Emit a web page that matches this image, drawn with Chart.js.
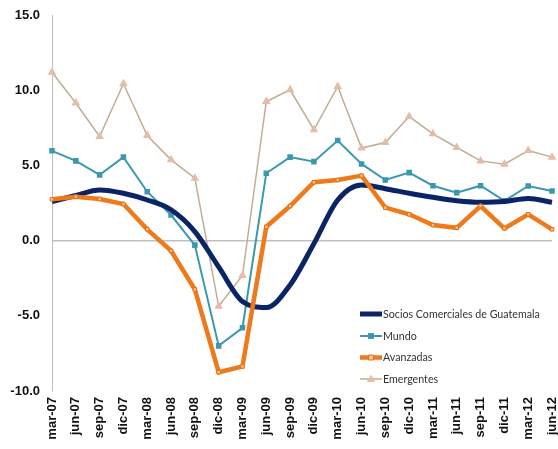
<!DOCTYPE html>
<html>
<head>
<meta charset="utf-8">
<script src="https://cdn.jsdelivr.net/npm/chart.js@4.4.1/dist/chart.umd.min.js"></script>
<style>
html,body{margin:0;padding:0;background:#fff;}
canvas{display:block;}
</style>
</head>
<body>
<canvas id="c" width="558" height="449"></canvas>
<script>
const categories = ["mar-07","jun-07","sep-07","dic-07","mar-08","jun-08","sep-08","dic-08","mar-09","jun-09","sep-09","dic-09","mar-10","jun-10","sep-10","dic-10","mar-11","jun-11","sep-11","dic-11","mar-12","jun-12"];
const socios = [2.6,3.0,3.37,3.15,2.7,2.05,0.6,-1.75,-4.05,-4.45,-2.95,-0.2,2.7,3.7,3.45,3.15,2.88,2.65,2.55,2.6,2.8,2.55];
const mundo = [5.97,5.3,4.37,5.55,3.25,1.7,-0.3,-7.0,-5.8,4.48,5.55,5.25,6.65,5.1,4.03,4.52,3.65,3.19,3.65,2.65,3.63,3.3];
const avanzadas = [2.75,2.92,2.77,2.43,0.75,-0.68,-3.25,-8.75,-8.37,0.92,2.3,3.88,4.03,4.32,2.19,1.75,1.03,0.85,2.3,0.81,1.75,0.75];
const emergentes = [11.19,9.15,6.92,10.43,6.99,5.37,4.15,-4.37,-2.32,9.25,10.03,7.37,10.25,6.15,6.52,8.25,7.1,6.19,5.3,5.08,5.99,5.55];
const seriesNames = ["Socios Comerciales de Guatemala","Mundo","Avanzadas","Emergentes"];
const yTicks = [-10,-5,0,5,10,15];

const NAVY = '#0B2466', TEAL = '#3B98AE', ORANGE = '#EE7A1B', TAN = '#BFAE95', TRI = '#E8BBA8';

const legendPlugin = {
  id: 'insideLegend',
  afterDraw(chart) {
    const ctx = chart.ctx;
    const x0 = 360, x1 = 382, ys = [314, 336, 357.5, 379];
    ctx.save();
    ctx.font = '12px Lato, "Open Sans", sans-serif';
    const w = ctx.measureText(seriesNames[0]).width;
    const fs = Math.min(12, 12 * 157 / w);
    ctx.font = fs.toFixed(2) + 'px Lato, "Open Sans", sans-serif';
    ctx.textBaseline = 'middle';
    const items = chart.data.datasets.slice().sort((a,b)=>a.legendIndex-b.legendIndex);
    items.forEach((ds, i) => {
      const y = ys[i];
      ctx.strokeStyle = ds.borderColor;
      ctx.lineWidth = ds.borderWidth;
      ctx.lineCap = 'butt';
      ctx.beginPath(); ctx.moveTo(x0, y); ctx.lineTo(x1, y); ctx.stroke();
      if (ds.pointRadius > 0) {
        const cx = (x0 + x1) / 2, r = ds.pointRadius;
        ctx.fillStyle = ds.pointBackgroundColor;
        ctx.strokeStyle = ds.pointBorderColor;
        ctx.lineWidth = 1;
        ctx.beginPath();
        if (ds.pointStyle === 'rect') { ctx.rect(cx - r, y - r, 2*r, 2*r); }
        else if (ds.pointStyle === 'triangle') { ctx.moveTo(cx, y - r); ctx.lineTo(cx + r, y + r*0.7); ctx.lineTo(cx - r, y + r*0.7); ctx.closePath(); }
        else { ctx.rect(cx - r*0.8, y - r*0.8, 1.6*r, 1.6*r); }
        ctx.fill(); ctx.stroke();
      }
      ctx.fillStyle = '#333333';
      ctx.fillText(ds.label, x1 + 1, y + 0.5);
    });
    ctx.restore();
  }
};

new Chart(document.getElementById('c'), {
  type: 'line',
  data: {
    labels: categories,
    datasets: [
      { label: seriesNames[3], legendIndex: 3, data: emergentes, borderColor: TAN, borderWidth: 1.5, pointStyle: 'triangle', pointRadius: 3.5, pointBackgroundColor: TRI, pointBorderColor: TRI, tension: 0, order: 4 },
      { label: seriesNames[1], legendIndex: 1, data: mundo, borderColor: TEAL, borderWidth: 2, pointStyle: 'rect', pointRadius: 2.5, pointBackgroundColor: TEAL, pointBorderColor: TEAL, tension: 0, order: 3 },
      { label: seriesNames[0], legendIndex: 0, data: socios, borderColor: NAVY, borderWidth: 5, pointRadius: 0, tension: 0.4, cubicInterpolationMode: 'monotone', order: 2 },
      { label: seriesNames[2], legendIndex: 2, data: avanzadas, borderColor: ORANGE, borderWidth: 4.5, pointStyle: 'rect', pointRadius: 2.5, pointBackgroundColor: '#F8C38E', pointBorderColor: '#E07016', pointBorderWidth: 1, tension: 0, order: 1 }
    ]
  },
  options: {
    responsive: false,
    animation: false,
    devicePixelRatio: 1,
    layout: { padding: { top: 15, right: 5, left: 0, bottom: 0 } },
    plugins: { legend: { display: false }, tooltip: { enabled: false } },
    scales: {
      x: {
        offset: false,
        grid: { display: false, drawTicks: false },
        border: { display: false },
        ticks: {
          autoSkip: false, minRotation: 90, maxRotation: 90, padding: 6,
          color: '#111', font: { family: '"Liberation Sans", Arial, sans-serif', size: 13, weight: 'bold' }
        },
        afterFit(s) { s.height = 58; s.paddingLeft = 0; s.paddingRight = 0; }
      },
      y: {
        min: -10, max: 15,
        afterBuildTicks(s) { s.ticks = yTicks.map(v => ({ value: v })); },
        grid: { drawTicks: false, color: c => (c.tick && c.tick.value === 0) ? '#BFBFBF' : 'rgba(0,0,0,0)', lineWidth: 1.5 },
        border: { display: true, color: '#BFBFBF', width: 1 },
        ticks: {
          padding: 12, color: '#111',
          font: { family: '"Liberation Sans", Arial, sans-serif', size: 13, weight: 'bold' },
          callback: v => Number(v).toFixed(1)
        },
        afterFit(s) { s.width = 52; s.paddingTop = 0; s.paddingBottom = 0; }
      }
    }
  },
  plugins: [legendPlugin]
});
</script>
</body>
</html>
